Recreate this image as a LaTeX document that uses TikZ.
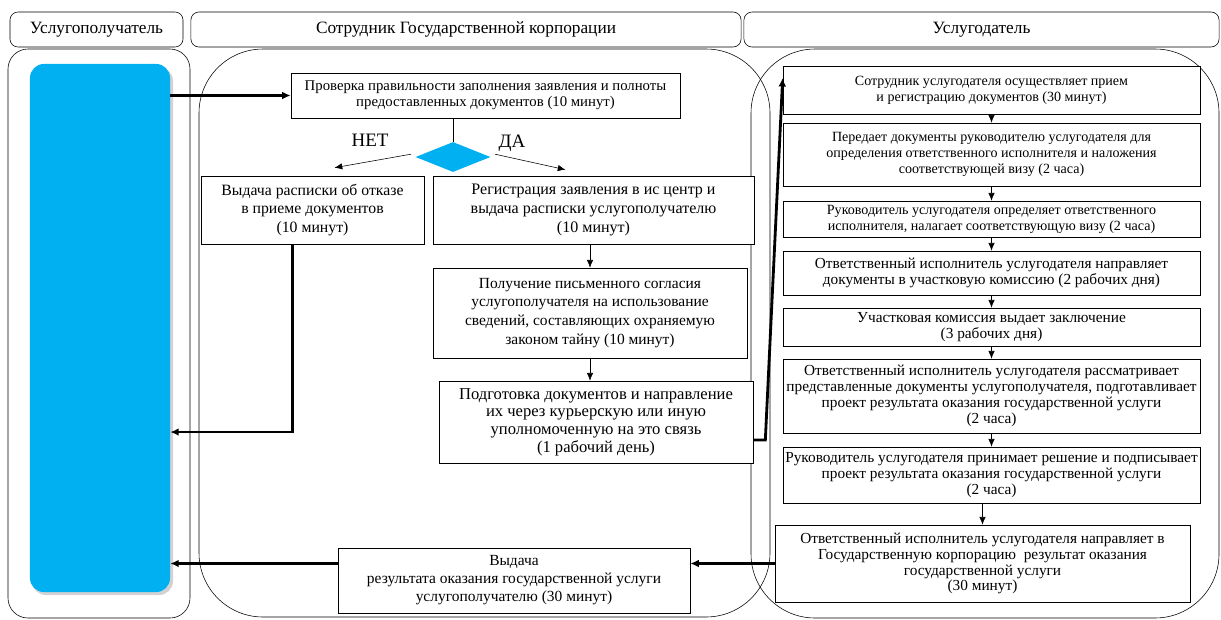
\documentclass[tikz,border=0pt]{standalone}
\usepackage{fontspec}
\setmainfont{Liberation Serif}
\usetikzlibrary{arrows.meta,shapes.geometric}
\definecolor{laneblue}{RGB}{0,176,240}
\tikzset{
	box/.style={draw, fill=white, align=center, inner sep=1pt,
		font=\fontsize{11}{12.8}\selectfont},
	rbox/.style={box, minimum width=10.425cm, font=\fontsize{10.9}{11.3}\selectfont},
	sbox/.style={rbox, font=\fontsize{10}{11.4}\selectfont},
	head/.style={draw, rounded corners=0.2cm, minimum height=0.875cm,
		font=\fontsize{12.3}{14}\selectfont},
	flow/.style={-{Latex[length=5.5pt,width=4.5pt]}},
	bold/.style={line width=2pt, -{Latex[length=6pt,width=5.5pt]}},
}
\begin{document}
\begin{tikzpicture}[x=0.025cm, y=-0.025cm]
	\useasboundingbox (0,0) rectangle (1221,619);

	% headers
	\node[head, minimum width=4.325cm] (h1) at (96.5,29.5) {Услугополучатель};
	\node[head, minimum width=13.75cm] (h2) at (466,29.5) {Сотрудник Государственной корпорации};
	\node[head, minimum width=11.875cm] (h3) at (981.5,29.5) {Услугодатель};

	% lanes
	\draw[rounded corners=0.5cm] (8,49) rectangle (190,618);
	\draw[rounded corners=1.6cm] (199,49) rectangle (770,617);
	\draw[rounded corners=1.6cm] (751,49) rectangle (1219,618);

	\fill[gray!35, rounded corners=0.35cm] (32,67) rectangle (173,595);
	\node[fill=laneblue, rounded corners=0.35cm, minimum width=3.5cm,
		minimum height=13.2cm] (client) at (100,328) {};

	% Государственная корпорация
	\node[box, minimum width=9.725cm, minimum height=1.125cm,
		font=\fontsize{10.5}{11.6}\selectfont] (chk) at (485.5,95.5)
		{Проверка правильности заполнения заявления и полноты\\предоставленных документов (10 минут)};
	\node[diamond, fill=laneblue, minimum width=1.875cm, minimum height=0.75cm,
		inner sep=0pt] (dia) at (453,157) {};
	\node[font=\fontsize{13.5}{15}\selectfont] (no) at (370,140) {НЕТ};
	\node[font=\fontsize{13.5}{15}\selectfont] (yes) at (512,143) {ДА};

	\node[box, minimum width=5.575cm, minimum height=1.7cm,
		font=\fontsize{11.2}{13.2}\selectfont] (refuse) at (312.5,210)
		{Выдача расписки об отказе\\в приеме документов\\(10 минут)};
	\node[box, minimum width=8.025cm, minimum height=1.7cm,
		font=\fontsize{11.4}{13.2}\selectfont] (reg) at (593.5,210)
		{Регистрация заявления в ис центр и\\выдача расписки услугополучателю\\(10 минут)};
	\node[box, minimum width=7.85cm, minimum height=2.25cm,
		font=\fontsize{11}{13.4}\selectfont] (consent) at (590,313)
		{Получение письменного согласия\\услугополучателя на использование\\сведений, составляющих охраняемую\\законом тайну (10 минут)};
	\node[box, minimum width=7.85cm, minimum height=2.05cm,
		font=\fontsize{11.8}{12.6}\selectfont] (prep) at (596,422)
		{Подготовка документов и направление\\их через курьерскую или иную\\уполномоченную на это связь\\(1 рабочий день)};
	\node[box, minimum width=8.8cm, minimum height=1.625cm] (issue) at (514,580.5)
		{Выдача\\результата оказания государственной услуги\\услугополучателю (30 минут)};

	% Услугодатель
	\node[sbox, minimum height=1.2cm] (r1) at (991.5,90)
		{Сотрудник услугодателя осуществляет прием\\и регистрацию документов (30 минут)};
	\node[sbox, minimum height=1.575cm] (r2) at (991.5,154.5)
		{Передает документы руководителю услугодателя для\\определения ответственного исполнителя и наложения\\соответствующей визу (2 часа)};
	\node[sbox, minimum height=0.9cm] (r3) at (991.5,219)
		{Руководитель услугодателя определяет ответственного\\исполнителя, налагает соответствующую визу (2 часа)};
	\node[rbox, minimum height=1.1cm] (r4) at (991.5,273)
		{Ответственный исполнитель услугодателя направляет\\документы в участковую комиссию (2 рабочих дня)};
	\node[rbox, minimum height=0.95cm] (r5) at (991.5,327)
		{Участковая комиссия выдает заключение\\(3 рабочих дня)};
	\node[rbox, minimum height=1.85cm] (r6) at (991.5,396)
		{Ответственный исполнитель услугодателя рассматривает\\представленные документы услугополучателя, подготавливает\\проект результата оказания государственной услуги\\(2 часа)};
	\node[rbox, minimum height=1.4cm] (r7) at (991.5,475)
		{Руководитель услугодателя принимает решение и подписывает\\проект результата оказания государственной услуги\\(2 часа)};
	\node[rbox, minimum width=10.375cm, minimum height=1.925cm] (r8) at (982.5,563.5)
		{Ответственный исполнитель услугодателя направляет в\\Государственную корпорацию\ \ результат оказания\\государственной услуги\\(30 минут)};

	% connectors
	\draw[bold] (client.east |- chk.west) -- (chk.west);
	\draw (chk.south -| dia.north) -- (dia.north);
	\draw[flow] ([xshift=-3pt,yshift=2pt]dia.west) -- ([xshift=0.55cm,yshift=0.2cm]refuse.north);
	\draw[flow] ([xshift=3pt,yshift=2pt]dia.east) -- ([xshift=-0.7cm,yshift=0.15cm]reg.north);
	\draw[flow] (reg.south -| consent.north) -- (consent.north);
	\draw[flow] (consent.south) -- (consent.south |- prep.north);
	\draw[bold] ([xshift=-0.5cm]refuse.south) |- ([yshift=-2.6cm]client.east);
	\draw[bold] ([yshift=-0.45cm]prep.east) -- ++(12,0) -- ([yshift=0.3cm]r1.west);

	\foreach \a/\b in {r1/r2, r2/r3, r3/r4, r4/r5, r5/r6, r6/r7}
		\draw[flow] (\a) -- (\b);
	\draw[flow] (r7.south -| r8.north) -- (r8.north);

	\draw[bold] (r8.west) -- (r8.west -| issue.east);
	\draw[bold] (issue.west |- r8.west) -- (client.east |- r8.west);
\end{tikzpicture}
\end{document}
